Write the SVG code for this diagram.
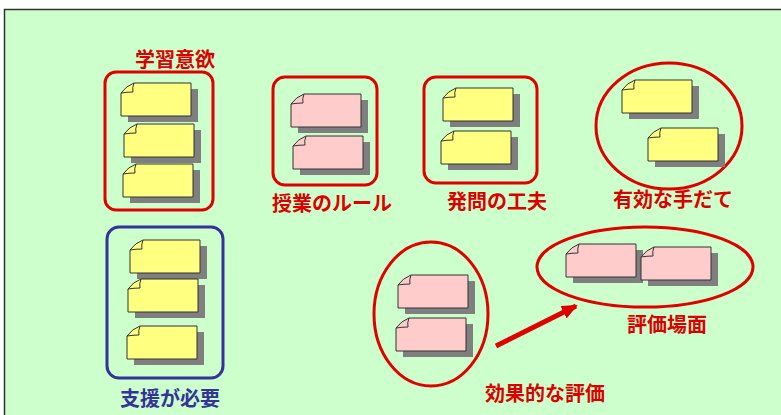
<svg xmlns="http://www.w3.org/2000/svg" xmlns:xlink="http://www.w3.org/1999/xlink" width="781" height="415" viewBox="0 0 781 415">
<style>
.frame{fill:none;stroke:#E00000;stroke-width:3}
.frameB{fill:none;stroke:#333399;stroke-width:3}
.lbl{font-family:"Noto Sans CJK JP","Noto Sans CJK SC",sans-serif;font-size:20px;font-weight:bold;text-anchor:middle}
.red{fill:#DD0000}
.blue{fill:#333399}
.y{fill:#FFFF80}
.p{fill:#FFCCCC}
</style>
<defs>
<g id="note">
<rect x="7" y="6" width="70" height="33" fill="#7F7F7F"/>
<path d="M0,10 Q5,3 13,0 L70,0 L70,33 L0,33 Z" stroke="#333" stroke-width="1"/>
<path d="M13,0 Q11,5 12,9 Q6,9 0,10" fill="none" stroke="#333" stroke-width="1"/>
</g>
<marker id="ah" markerUnits="userSpaceOnUse" markerWidth="16" markerHeight="16" refX="14" refY="8" orient="auto">
<path d="M0,1 L16,8 L0,15 Z" fill="#E00000"/>
</marker>
</defs>
<rect x="0" y="0" width="781" height="415" fill="#FFFFFF"/>
<rect x="4.5" y="9.5" width="790" height="420" fill="#CCFFCC" stroke="#333" stroke-width="1.5"/>

<g id="gakushu">
<rect class="frame" x="105" y="72" width="108" height="138" rx="11"/>
<use xlink:href="#note" class="y" x="121" y="83"/>
<use xlink:href="#note" class="y" x="124" y="124"/>
<use xlink:href="#note" class="y" x="123" y="164"/>
<text class="lbl red" x="175" y="67">学習意欲</text>
</g>

<g id="jugyo">
<rect class="frame" x="273" y="77" width="104" height="108" rx="12"/>
<use xlink:href="#note" class="p" x="291" y="94"/>
<use xlink:href="#note" class="p" x="293" y="136"/>
<text class="lbl red" x="332" y="211">授業のルール</text>
</g>

<g id="hatsumon">
<rect class="frame" x="424" y="77" width="113" height="106" rx="12"/>
<use xlink:href="#note" class="y" x="443" y="88"/>
<use xlink:href="#note" class="y" x="441" y="131"/>
<text class="lbl red" x="497" y="209">発問の工夫</text>
</g>

<g id="tedate">
<ellipse class="frame" cx="669" cy="126" rx="73" ry="63"/>
<use xlink:href="#note" class="y" x="622" y="80"/>
<use xlink:href="#note" class="y" x="648" y="128"/>
<text class="lbl red" x="673" y="207">有効な手だて</text>
</g>

<g id="shien">
<rect class="frameB" x="107" y="227" width="116" height="151" rx="12"/>
<use xlink:href="#note" class="y" x="130" y="240"/>
<use xlink:href="#note" class="y" x="128" y="279"/>
<use xlink:href="#note" class="y" x="127" y="326"/>
<text class="lbl blue" x="170" y="406">支援が必要</text>
</g>

<g id="kouka">
<ellipse class="frame" cx="431" cy="314" rx="57" ry="72"/>
<use xlink:href="#note" class="p" x="398" y="275"/>
<use xlink:href="#note" class="p" x="396" y="318"/>
<text class="lbl red" x="545" y="401">効果的な評価</text>
</g>

<g id="bamen">
<ellipse class="frame" cx="645" cy="267" rx="108" ry="40"/>
<use xlink:href="#note" class="p" x="566" y="244"/>
<use xlink:href="#note" class="p" x="641" y="247"/>
<text class="lbl red" x="667" y="332">評価場面</text>
</g>

<g id="connectors">
<path d="M496,346 L576,306" stroke="#E00000" stroke-width="5" fill="none" marker-end="url(#ah)"/>
</g>
</svg>
